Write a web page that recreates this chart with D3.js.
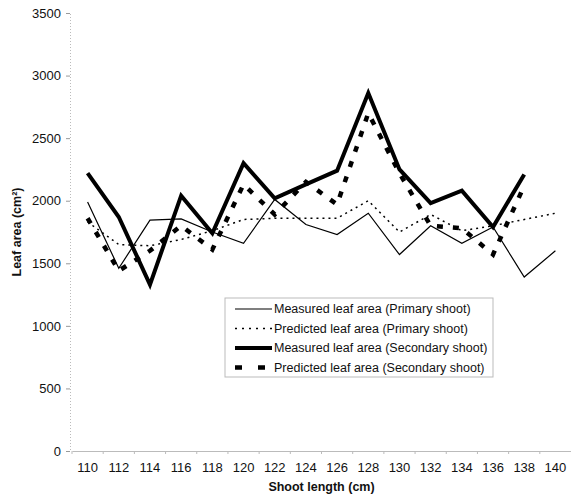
<!DOCTYPE html>
<html>
<head>
  <meta charset="utf-8">
  <title>Leaf area vs shoot length</title>
  <script src="https://d3js.org/d3.v7.min.js"></script>
  <style>
    body { margin: 0; background: #fff; }
    svg { font-family: "Liberation Sans", Arial, sans-serif; }
    .tick text { font-size: 13px; fill: #111; }
    .axis-title { font-size: 12.5px; font-weight: bold; fill: #111; }
    .legend text { font-size: 12.5px; fill: #111; }
  </style>
</head>
<body>
<div id="chart"></div>
<script>

const width = 571;
const height = 500;

// values
const shootLength = [110, 112, 114, 116, 118, 120, 122, 124, 126, 128, 130, 132, 134, 136, 138, 140];
const measuredPrimary = [1990, 1460, 1845, 1855, 1750, 1660, 2010, 1810, 1730, 1900, 1570, 1800, 1660, 1790, 1390, 1600];
const predictedPrimary = [1830, 1650, 1640, 1690, 1760, 1850, 1860, 1860, 1860, 2000, 1750, 1890, 1760, 1800, 1850, 1900];
const measuredSecondary = [2220, 1870, 1330, 2040, 1740, 2300, 2020, 2130, 2240, 2860, 2250, 1980, 2080, 1790, 2210, null];
const predictedSecondary = [1860, 1440, 1600, 1800, 1610, 2130, 1890, 2150, 1970, 2700, 2220, 1800, 1780, 1570, 2120, null];
const yTicks = [0, 500, 1000, 1500, 2000, 2500, 3000, 3500];

const series = [
  { name: "Measured leaf area (Primary shoot)", values: measuredPrimary, width: 1.2, dash: null, legendDash: null },
  { name: "Predicted leaf area (Primary shoot)", values: predictedPrimary, width: 1.5, dash: "2,4", legendDash: "2,5" },
  { name: "Measured leaf area (Secondary shoot)", values: measuredSecondary, width: 4, dash: null, legendDash: null },
  { name: "Predicted leaf area (Secondary shoot)", values: predictedSecondary, width: 4.5, dash: "6,10", legendDash: "7,16" }
];

const margin = { top: 13, right: 0, bottom: 49, left: 72 };

const svg = d3.select("#chart").append("svg")
  .attr("width", width)
  .attr("height", height);

const x = d3.scaleBand()
  .domain(shootLength)
  .range([margin.left, width - margin.right]);

const y = d3.scaleLinear()
  .domain([0, 3500])
  .range([height - margin.bottom, margin.top]);

// y axis
const yAxis = svg.append("g")
  .attr("transform", `translate(${margin.left - 2},0)`)
  .call(d3.axisLeft(y).tickValues(yTicks).tickFormat(d3.format("d")).tickSize(4).tickPadding(5));
yAxis.select(".domain").attr("stroke", "#bbb").attr("stroke-dasharray", "1,2");
yAxis.selectAll(".tick line").attr("stroke", "#999");

// x axis, ticks between categories like the original
const xAxis = svg.append("g")
  .attr("transform", `translate(0,${height - margin.bottom})`)
  .call(d3.axisBottom(x).tickSize(0).tickPadding(12));
xAxis.select(".domain").attr("stroke", "#bbb");
xAxis.selectAll(".tick")
  .append("line")
  .attr("x1", -x.step() / 2).attr("x2", -x.step() / 2)
  .attr("y1", 0).attr("y2", 3)
  .attr("stroke", "#bbb");

// axis titles
svg.append("text")
  .attr("class", "axis-title")
  .attr("text-anchor", "middle")
  .attr("x", (margin.left + width) / 2)
  .attr("y", height - 9)
  .text("Shoot length (cm)");

svg.append("text")
  .attr("class", "axis-title")
  .attr("text-anchor", "middle")
  .attr("transform", `translate(21,${(margin.top + height - margin.bottom) / 2}) rotate(-90)`)
  .text("Leaf area (cm²)");

// lines
const line = d3.line()
  .defined(d => d.v !== null)
  .x(d => x(d.k) + x.bandwidth() / 2)
  .y(d => y(d.v));

svg.append("g")
  .selectAll("path")
  .data(series)
  .join("path")
  .attr("fill", "none")
  .attr("stroke", "#000")
  .attr("stroke-width", d => d.width)
  .attr("stroke-dasharray", d => d.dash)
  .attr("stroke-linejoin", "miter")
  .attr("d", d => line(shootLength.map((k, i) => ({ k: k, v: d.values[i] }))));

// legend
const legend = svg.append("g")
  .attr("class", "legend")
  .attr("transform", "translate(225,298)");

legend.append("rect")
  .attr("width", 268)
  .attr("height", 79)
  .attr("fill", "#fff")
  .attr("stroke", "#bbb");

const rows = legend.selectAll("g.row")
  .data(series)
  .join("g")
  .attr("class", "row")
  .attr("transform", (d, i) => `translate(0,${11 + i * 19.5})`);

rows.append("line")
  .attr("x1", 10).attr("x2", 47)
  .attr("stroke", "#000")
  .attr("stroke-width", d => d.width)
  .attr("stroke-dasharray", d => d.legendDash);

rows.append("text")
  .attr("x", 49)
  .attr("dy", "0.35em")
  .text(d => d.name);

</script>
</body>
</html>
